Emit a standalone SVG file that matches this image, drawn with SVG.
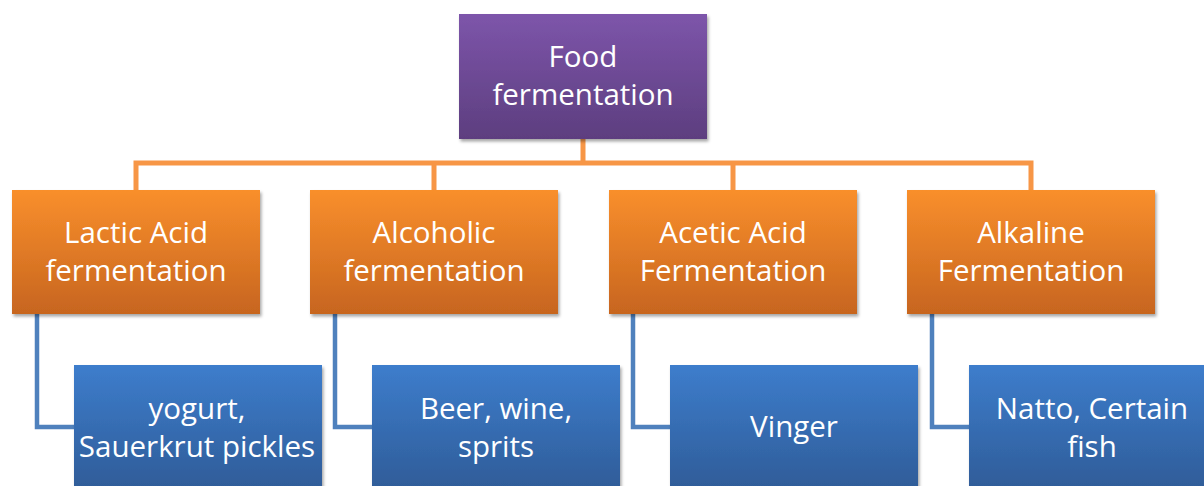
<svg xmlns="http://www.w3.org/2000/svg" width="1204" height="486" viewBox="0 0 1204 486">
  <defs>
    <linearGradient id="gPurple" x1="0" y1="0" x2="0" y2="1">
      <stop offset="0" stop-color="#7D55AA"/>
      <stop offset="1" stop-color="#5D3E7F"/>
    </linearGradient>
    <linearGradient id="gOrange" x1="0" y1="0" x2="0" y2="1">
      <stop offset="0" stop-color="#F98F2C"/>
      <stop offset="1" stop-color="#C7651F"/>
    </linearGradient>
    <linearGradient id="gBlue" x1="0" y1="0" x2="0" y2="1">
      <stop offset="0" stop-color="#3D7DCC"/>
      <stop offset="1" stop-color="#2F5C98"/>
    </linearGradient>
    <filter id="shadow" x="-10%" y="-10%" width="120%" height="130%">
      <feDropShadow dx="1.5" dy="2.5" stdDeviation="1.8" flood-color="#000" flood-opacity="0.35"/>
    </filter>
  </defs>
  <style>
    .lbl { font-family: "Open Sans", Lato, "Liberation Sans", sans-serif; font-size: 29.5px; fill: #FFFFFF; text-anchor: middle; }
    .oc { fill: none; stroke: #F79646; stroke-width: 5; }
    .bc { fill: none; stroke: #4F81BD; stroke-width: 4.5; }
  </style>
  <rect width="1204" height="486" fill="#FFFFFF"/>
  <g id="connectors">
    <path class="oc" d="M583,139 V163 M136,190 V163 H1031 V190 M434,163 V190 M733,163 V190"/>
    <path class="bc" d="M37,314 V427 H74"/>
    <path class="bc" d="M335,314 V427 H372"/>
    <path class="bc" d="M633,314 V427 H670"/>
    <path class="bc" d="M932,314 V427 H969"/>
  </g>
  <g id="food-fermentation">
    <rect x="459" y="14" width="248" height="125" fill="url(#gPurple)" filter="url(#shadow)"/>
    <text class="lbl" x="583" y="67">Food</text>
    <text class="lbl" x="583" y="105">fermentation</text>
  </g>
  <g id="lactic">
    <rect x="12" y="190" width="248" height="124" fill="url(#gOrange)" filter="url(#shadow)"/>
    <text class="lbl" x="136" y="243">Lactic Acid</text>
    <text class="lbl" x="136" y="281">fermentation</text>
  </g>
  <g id="alcoholic">
    <rect x="310" y="190" width="248" height="124" fill="url(#gOrange)" filter="url(#shadow)"/>
    <text class="lbl" x="434" y="243">Alcoholic</text>
    <text class="lbl" x="434" y="281">fermentation</text>
  </g>
  <g id="acetic">
    <rect x="609" y="190" width="248" height="124" fill="url(#gOrange)" filter="url(#shadow)"/>
    <text class="lbl" x="733" y="243">Acetic Acid</text>
    <text class="lbl" x="733" y="281">Fermentation</text>
  </g>
  <g id="alkaline">
    <rect x="907" y="190" width="248" height="124" fill="url(#gOrange)" filter="url(#shadow)"/>
    <text class="lbl" x="1031" y="243">Alkaline</text>
    <text class="lbl" x="1031" y="281">Fermentation</text>
  </g>
  <g id="yogurt">
    <rect x="74" y="365" width="248" height="125" fill="url(#gBlue)" filter="url(#shadow)"/>
    <text class="lbl" x="197" y="419">yogurt,</text>
    <text class="lbl" x="197" y="457">Sauerkrut pickles</text>
  </g>
  <g id="beer">
    <rect x="372" y="365" width="248" height="125" fill="url(#gBlue)" filter="url(#shadow)"/>
    <text class="lbl" x="496" y="419">Beer, wine,</text>
    <text class="lbl" x="496" y="457">sprits</text>
  </g>
  <g id="vinger">
    <rect x="670" y="365" width="248" height="125" fill="url(#gBlue)" filter="url(#shadow)"/>
    <text class="lbl" x="794" y="437">Vinger</text>
  </g>
  <g id="natto">
    <rect x="969" y="365" width="248" height="125" fill="url(#gBlue)" filter="url(#shadow)"/>
    <text class="lbl" x="1092" y="419">Natto, Certain</text>
    <text class="lbl" x="1092" y="457">fish</text>
  </g>
</svg>
